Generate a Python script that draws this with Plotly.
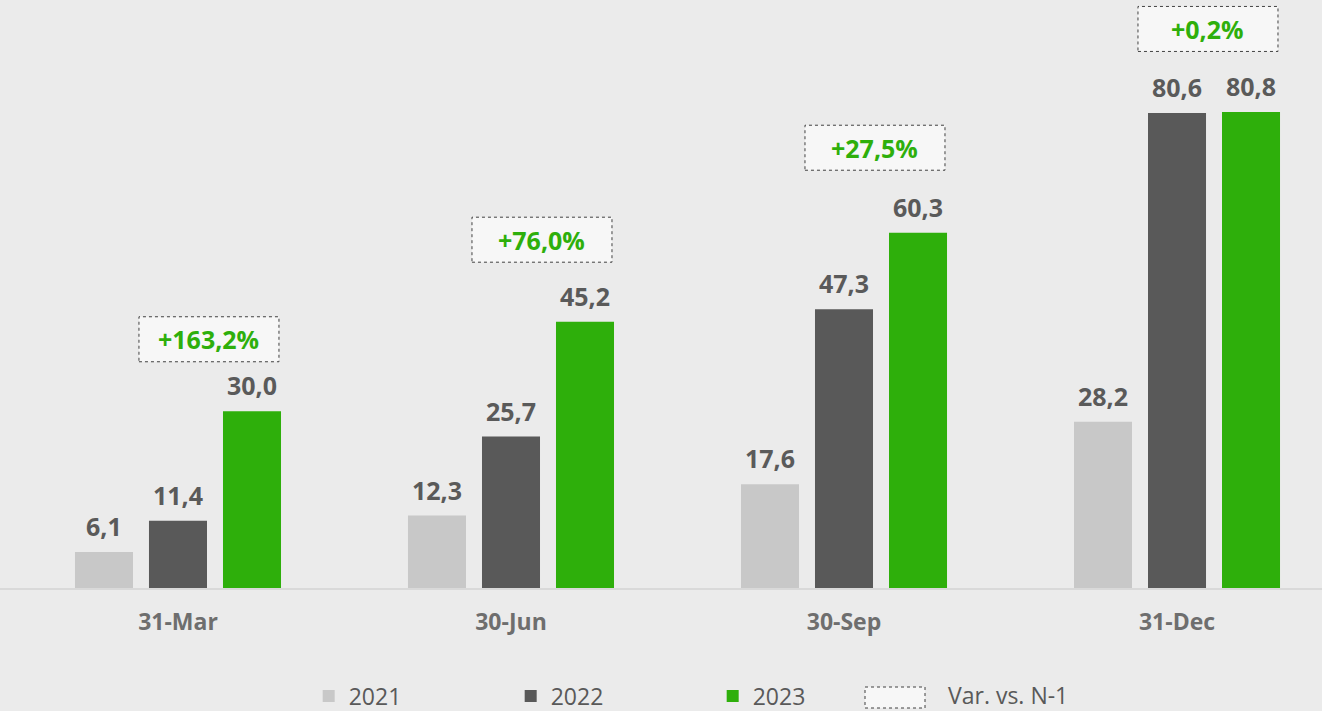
import plotly.graph_objects as go

# ---- data ----
categories = ["31-Mar", "30-Jun", "30-Sep", "31-Dec"]
years = ["2021", "2022", "2023"]
v2021 = [6.1, 12.3, 17.6, 28.2]
v2022 = [11.4, 25.7, 47.3, 80.6]
v2023 = [30.0, 45.2, 60.3, 80.8]
var_pct = [163.2, 76.0, 27.5, 0.2]
var_label = "Var. vs. N-1"

# ---- style ----
BG = "#EBEBEB"
colors = ["#C8C8C8", "#595959", "#2EAF0B"]
GREEN_TXT = "#2EAF0B"
LABEL_CLR = "#5A5A5A"
FONT = "Open Sans"
slot = 0.2222          # group slot width (category units)
box_dx = 0.093         # box centre offset from category centre
box_shift = [72, 82, 85, 83]  # px above green bar top

def fmt(v, d=1):
    return f"{v:.{d}f}".replace(".", ",")

fig = go.Figure()
series = [v2021, v2022, v2023]
for name, vals, col in zip(years, series, colors):
    fig.add_trace(go.Bar(x=categories, y=vals, name=name, marker=dict(color=col, line=dict(width=0)),
                         hoverinfo="skip"))

annotations = []
shapes = []
for k, vals in enumerate(series):
    for i, v in enumerate(vals):
        annotations.append(dict(x=i + (k - 1) * slot, y=v, xref="x", yref="y", text=f"<b>{fmt(v)}</b>",
                                showarrow=False, yanchor="middle", yshift=26,
                                font=dict(family=FONT, size=25, color=LABEL_CLR)))

for i, p in enumerate(var_pct):
    shapes.append(dict(type="rect", xref="x", yref="y", xsizemode="pixel", ysizemode="pixel",
                       xanchor=i + box_dx, yanchor=v2023[i],
                       x0=-70, x1=70, y0=box_shift[i] - 22.5, y1=box_shift[i] + 22.5,
                       fillcolor="#F7F7F7", line=dict(color="#404040", width=1, dash="dot"), layer="above"))
    annotations.append(dict(x=i + box_dx, y=v2023[i], xref="x", yref="y", text=f"<b>+{fmt(p)}%</b>",
                            showarrow=False, yanchor="middle", yshift=box_shift[i],
                            font=dict(family=FONT, size=25, color=GREEN_TXT)))

# legend entry for the variation box
shapes.append(dict(type="rect", xref="paper", yref="paper", xsizemode="pixel", ysizemode="pixel",
                   xanchor=0, yanchor=0, x0=865, x1=925, y0=-120, y1=-99,
                   fillcolor="#F7F7F7", line=dict(color="#404040", width=1, dash="dot")))
annotations.append(dict(xref="paper", yref="paper", x=0, y=0, xshift=947, yshift=-107, xanchor="left",
                        yanchor="middle", text=var_label, showarrow=False, borderpad=0,
                        font=dict(family=FONT, size=23, color="#595959")))

fig.update_layout(
    width=1322, height=711,
    paper_bgcolor=BG, plot_bgcolor=BG,
    margin=dict(l=0, r=0, t=0, b=123),
    barmode="group", bargap=0.3333, bargroupgap=0.216,
    showlegend=True,
    legend=dict(orientation="h", xref="container", yref="container", x=0.2335, y=0.021,
                xanchor="left", yanchor="middle", entrywidth=157, entrywidthmode="pixels",
                font=dict(family=FONT, size=23, color="#595959"), bgcolor="rgba(0,0,0,0)",
                traceorder="normal"),
    xaxis=dict(type="category", range=[-0.5345, 3.4354], showline=True, linecolor="#D9D9D9", linewidth=2,
               showgrid=False, ticks="", ticklabelstandoff=12,
               tickfont=dict(family=FONT, size=23, color="#6E6E6E", weight="bold")),
    yaxis=dict(range=[0, 99.8], visible=False, showgrid=False, zeroline=False),
    shapes=shapes, annotations=annotations,
)

fig.write_html("out.html", config={"displayModeBar": False},
               post_script="document.body.style.margin='0';document.body.style.overflow='hidden';")
